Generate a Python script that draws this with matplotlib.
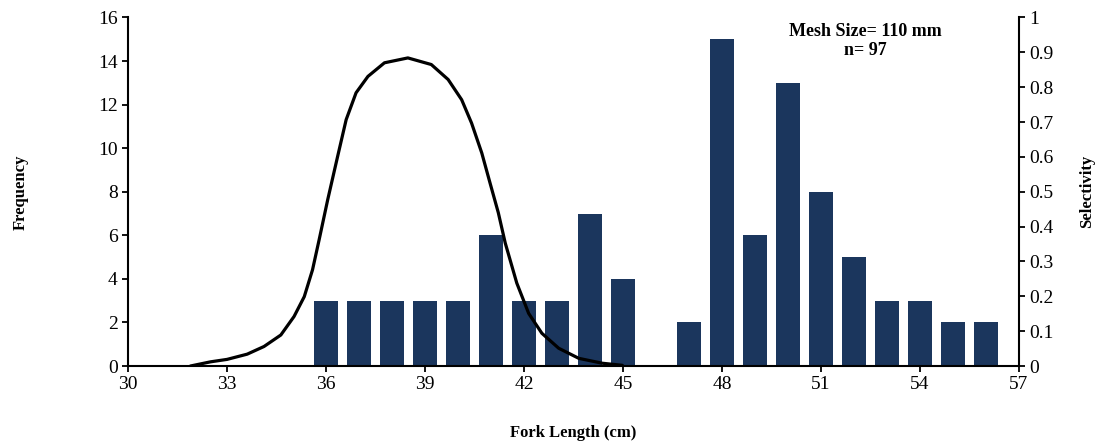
import numpy as np
import matplotlib.pyplot as plt

plt.rcParams['font.family'] = ['Liberation Serif', 'DejaVu Serif']

# frequency of fish per fork length class
lengths = [36, 37, 38, 39, 40, 41, 42, 43, 44, 45, 47, 48, 49, 50, 51, 52, 53, 54, 55, 56]
counts = [3, 3, 3, 3, 3, 6, 3, 3, 7, 4, 2, 15, 6, 13, 8, 5, 3, 3, 2, 2]

# selectivity curve
sel_x = [31.89, 32.50, 33.0, 33.61, 34.12, 34.63, 35.03, 35.34, 35.59, 35.79, 36.05,
         36.35, 36.61, 36.91, 37.27, 37.77, 38.48, 39.19, 39.70, 40.11, 40.41, 40.72,
         40.97, 41.22, 41.43, 41.78, 42.14, 42.54, 43.05, 43.66, 44.37, 44.98]
sel_y = [0.0, 0.012, 0.019, 0.034, 0.056, 0.089, 0.142, 0.199, 0.276, 0.362, 0.477,
         0.601, 0.707, 0.784, 0.831, 0.870, 0.884, 0.865, 0.822, 0.764, 0.697, 0.611,
         0.525, 0.440, 0.353, 0.238, 0.151, 0.094, 0.051, 0.022, 0.008, 0.002]

fig = plt.figure(figsize=(11.02, 4.45), dpi=100)
ax = fig.add_axes([0.1162, 0.1775, 0.8085, 0.7832])
ax.bar(lengths, counts, width=0.74, color='#1B365D', zorder=2)
ax.set_xlim(30, 57)
ax.set_ylim(0, 16)
ax.set_xticks(np.arange(30, 58, 3))
ax.set_yticks(np.arange(0, 17, 2))
ax.spines['top'].set_visible(False)
ax.spines['right'].set_visible(False)
for s in ['left', 'bottom']:
    ax.spines[s].set_linewidth(1.5)
ax.tick_params(direction='out', length=4, width=1.3, labelsize=14)
ax.set_ylabel('Frequency', fontsize=12, fontweight='bold', labelpad=50)
ax.set_xlabel('Fork Length (cm)', fontsize=12, fontweight='bold', labelpad=23)

ax2 = ax.twinx()
ax2.plot(sel_x, sel_y, color='black', linewidth=2.3, zorder=3,
         solid_joinstyle='round', solid_capstyle='round')
ax2.set_ylim(0, 1)
ax2.set_yticks(np.arange(0, 1.01, 0.1))
ax2.set_yticklabels(['0'] + ['%.1f' % v for v in np.arange(0.1, 0.95, 0.1)] + ['1'])
ax2.spines['top'].set_visible(False)
ax2.spines['left'].set_visible(False)
ax2.spines['bottom'].set_visible(False)
ax2.spines['right'].set_linewidth(1.5)
ax2.tick_params(direction='out', length=4, width=1.3, labelsize=14)
ax2.set_ylabel('Selectivity', fontsize=12, fontweight='bold', labelpad=18)

ax.text(0.827, 0.985, 'Mesh Size= 110 mm\nn= 97', transform=ax.transAxes,
        ha='center', va='top', fontsize=13, fontweight='bold', linespacing=1.15)

fig.savefig('out.png', dpi=100)
